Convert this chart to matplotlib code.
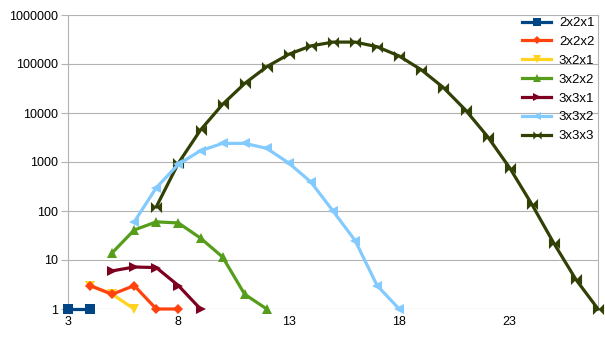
import numpy as np
import matplotlib
matplotlib.use("Agg")
import matplotlib.pyplot as plt
from matplotlib.ticker import FixedLocator, FuncFormatter, NullLocator

plt.rcParams['font.family'] = ['Liberation Sans', 'DejaVu Sans']

# series data (x = step, y = count)
x_221 = [3, 4]
y_221 = [1, 1]
x_222 = [4, 5, 6, 7, 8]
y_222 = [3, 2, 3, 1, 1]
x_321 = [4, 5, 6]
y_321 = [3, 2, 1]
x_322 = [5, 6, 7, 8, 9, 10, 11, 12]
y_322 = [14, 41, 60, 57, 28, 11.5, 2, 1]
x_331 = [5, 6, 7, 8, 9]
y_331 = [6, 7.2, 7, 3, 1]
x_332 = list(range(6, 19))
y_332 = [60, 300, 900, 1700, 2400, 2400, 1900, 950, 390, 100, 25, 3, 1]
x_333 = list(range(7, 28))
y_333 = [122, 950, 4500, 15000, 40000, 88000, 158000, 234000, 280000, 280000,
         225000, 145000, 76000, 33000, 11500, 3300, 760, 138, 22, 4, 1]

labels = ["2x2x1", "2x2x2", "3x2x1", "3x2x2", "3x3x1", "3x3x2", "3x3x3"]
colors = ["#004586", "#ff420e", "#ffd320", "#579d1c", "#7e0021", "#83caff", "#314004"]

# bowtie marker: two triangles pointing to the centre
bowtie = [(-1, 1), (-1, -1), (1, 1), (1, -1), (-1, 1)]
markers = ["s", "D", "v", "^", ">", "<", bowtie]
sizes = [7, 5.5, 7.5, 7.5, 7.5, 7.5, 8]
# drawing order as in the original (orange over yellow, light blue over olive)
zorders = [3.6, 3.5, 3.4, 3.3, 3.2, 3.1, 3.0]

series = [(x_221, y_221), (x_222, y_222), (x_321, y_321), (x_322, y_322),
          (x_331, y_331), (x_332, y_332), (x_333, y_333)]

fig = plt.figure(figsize=(6.05, 3.4), dpi=100)
ax = fig.add_axes([68 / 605, 1 - 309 / 340, 530 / 605, 294 / 340])

for (xs, ys), lab, col, mk, ms, z in zip(series, labels, colors, markers, sizes, zorders):
    ax.plot(xs, ys, color=col, lw=2.3, marker=mk, markersize=ms,
            markeredgewidth=0, label=lab, clip_on=False, zorder=z)

ax.set_yscale("log")
ax.set_ylim(1, 1000000)
ax.set_xlim(3, 27)
ax.yaxis.set_major_locator(FixedLocator([10 ** i for i in range(7)]))
ax.yaxis.set_minor_locator(NullLocator())
ax.yaxis.set_major_formatter(FuncFormatter(lambda v, p: "%d" % round(v)))
ax.set_xticks([3, 8, 13, 18, 23])

ax.grid(axis="y", color="#b3b3b3", lw=0.8)
ax.set_axisbelow(True)
for side in ["top", "bottom"]:
    ax.spines[side].set_visible(False)
for side in ["left", "right"]:
    ax.spines[side].set_color("#b3b3b3")
    ax.spines[side].set_linewidth(0.8)

ax.tick_params(axis="y", length=5, width=0.8, color="#b3b3b3", labelsize=9, pad=2)
ax.tick_params(axis="x", length=0, labelsize=9, pad=5)

ax.legend(loc="upper left", bbox_to_anchor=(522 / 605, 1 - 17 / 340),
          bbox_transform=fig.transFigure, frameon=False, fontsize=9.5,
          borderpad=0, borderaxespad=0, handlelength=2.2, handletextpad=0.6,
          labelspacing=0.5, markerscale=0.75)

fig.savefig("out.png", dpi=100)
